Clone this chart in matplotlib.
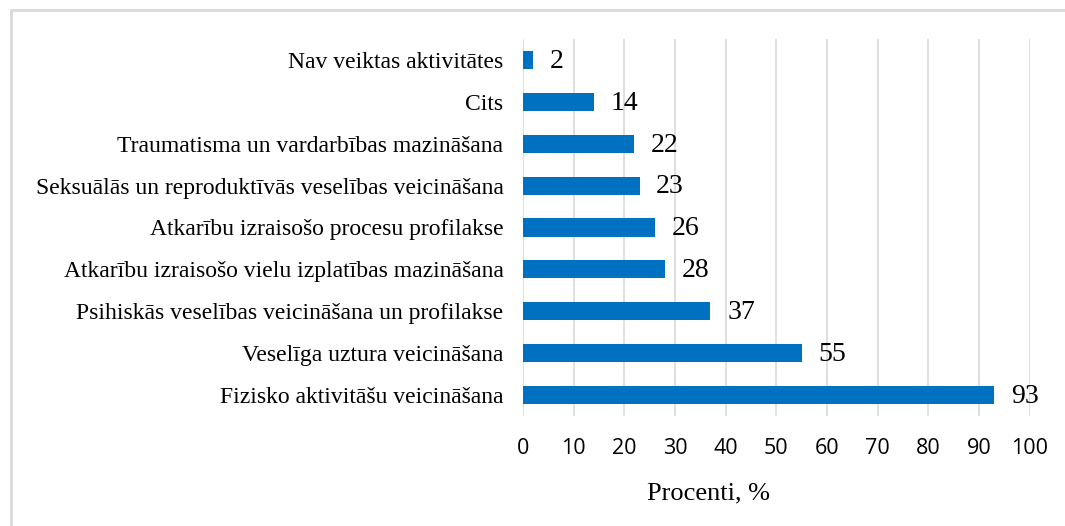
import matplotlib
matplotlib.use("Agg")
import matplotlib.pyplot as plt
from matplotlib.patches import Rectangle

# dati
categories = ["Fizisko aktivitāšu veicināšana",
              "Veselīga uztura veicināšana",
              "Psihiskās veselības veicināšana un profilakse",
              "Atkarību izraisošo vielu izplatības mazināšana",
              "Atkarību izraisošo procesu profilakse",
              "Seksuālās un reproduktīvās veselības veicināšana",
              "Traumatisma un vardarbības mazināšana",
              "Cits",
              "Nav veiktas aktivitātes"]
values = [93, 55, 37, 28, 26, 23, 22, 14, 2]
xticks = list(range(0, 101, 10))

serif = "Liberation Serif"
sans = "Open Sans"

fig = plt.figure(figsize=(10.65, 5.26), dpi=100)
ax = fig.add_axes([0.491, 0.209, 0.476, 0.717])

ypos = range(len(categories))
ax.barh(ypos, values, height=0.43, color="#0070C0", zorder=3)
for y, v in zip(ypos, values):
    ax.annotate(str(v), (v, y), xytext=(12, -1), textcoords="offset points",
                va="center", ha="left", fontsize=20, family=serif)

ax.set_xlim(0, 100)
ax.set_ylim(-0.5, len(categories) - 0.5)
ax.set_xticks(xticks)
ax.set_xticklabels([str(t) for t in xticks], fontsize=15.5, family=sans)
ax.set_yticks(list(ypos))
ax.set_yticklabels(categories, fontsize=17, family=serif)
ax.tick_params(length=0, pad=16, axis="x")
ax.tick_params(length=0, pad=14, axis="y")
ax.grid(axis="x", color="#d9d9d9", linewidth=1.2, zorder=0)
for s in ax.spines.values():
    s.set_visible(False)
ax.set_xlabel("Procenti, %", fontsize=19, family=serif)
ax.xaxis.set_label_coords(0.367, -0.175)

# rāmis
fig.patches.append(Rectangle((11 / 1065, -0.05), 1.1, 1 - 10 / 526 + 0.05,
                             transform=fig.transFigure, fill=False,
                             edgecolor="#d9d9d9", linewidth=2))

fig.savefig("out.png", dpi=100)
